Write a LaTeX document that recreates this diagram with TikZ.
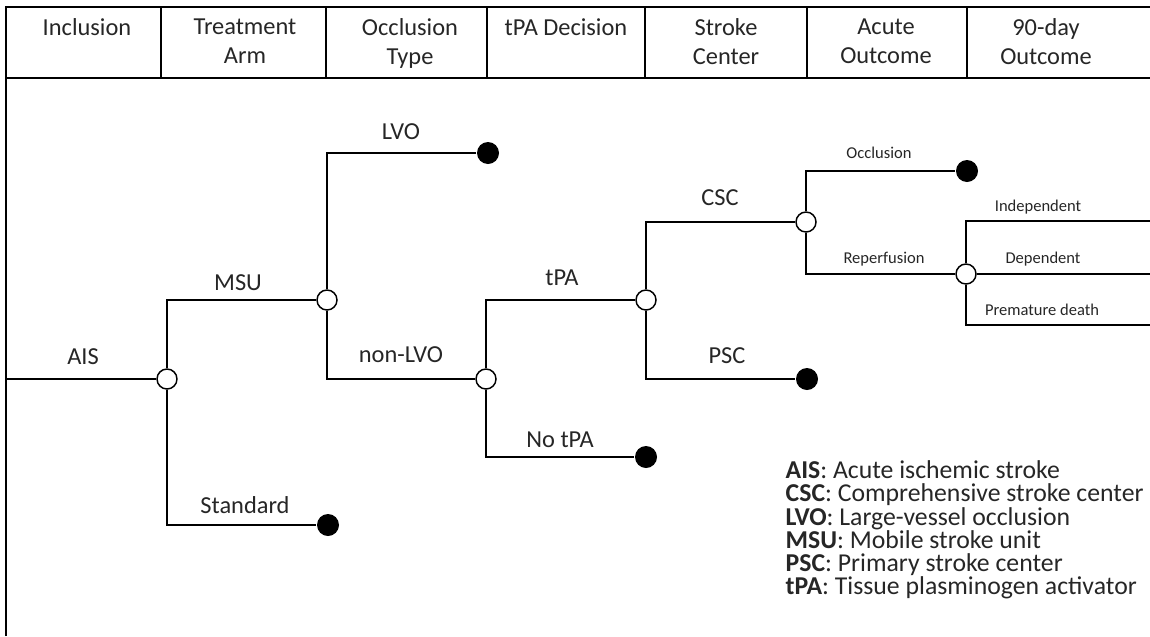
\documentclass[tikz,border=0pt]{standalone}
\usepackage{fontspec}
\setmainfont{Carlito}
\begin{document}
\begin{tikzpicture}[x=0.75pt,y=-0.75pt,line width=1.1pt,
    every node/.style={text=black!85},
    chance/.style={circle,draw,fill=white,minimum size=15pt,inner sep=0pt},
    final/.style={circle,fill=black,minimum size=16.5pt,inner sep=0pt},
    head/.style={font=\fontsize{18.3}{21.5}\selectfont,align=center,anchor=north,inner sep=0pt},
    big/.style={font=\fontsize{18.3}{22}\selectfont,anchor=base,inner sep=0pt},
    small/.style={font=\fontsize{12.4}{15}\selectfont,anchor=base,inner sep=0pt}]

        \useasboundingbox (0,0) rectangle (1150,636);

        % header:
        \draw (6,636) -- (6,7) -- (1150,7);
        \draw (6,78) -- (1150,78);
        \foreach \x in {161,326,487,645,807,967} \draw (\x,7) -- (\x,78);
        \node(hInc)[head] at (87,18) {Inclusion};
        \node(hArm)[head] at (245,18) {Treatment\\Arm};
        \node(hOcc)[head] at (410,18) {Occlusion\\Type};
        \node(hTpa)[head] at (566,18) {tPA Decision};
        \node(hCen)[head] at (726,18) {Stroke\\Center};
        \node(hAcu)[head] at (886,18) {Acute\\Outcome};
        \node(hDay)[head] at (1046,18) {90-day\\Outcome};

        % AIS:
        \coordinate(root) at (6,379);
        \node(cAIS)[chance] at (167,379) {};
        \draw (root) -- (cAIS);
        \node(lAIS)[big] at (83,364) {AIS};

        % MSU / Standard:
        \node(cMSU)[chance] at (327,300) {};
        \node(tStd)[final] at (328,525) {};
        \draw (cAIS) |- (cMSU);
        \draw (cAIS) |- (tStd);
        \node(lMSU)[big] at (238,290) {MSU};
        \node(lStd)[big] at (245,513) {Standard};

        % LVO / non-LVO:
        \node(tLVO)[final] at (488,153) {};
        \node(cNon)[chance] at (486,379) {};
        \draw (cMSU) |- (tLVO);
        \draw (cMSU) |- (cNon);
        \node(lLVO)[big] at (401,139) {LVO};
        \node(lNon)[big] at (401,362) {non-LVO};

        % tPA / No tPA:
        \node(cTpa)[chance] at (646,300) {};
        \node(tNo)[final] at (646,457) {};
        \draw (cNon) |- (cTpa);
        \draw (cNon) |- (tNo);
        \node(lTpa)[big] at (562,285) {tPA};
        \node(lNo)[big] at (560,447) {No tPA};

        % CSC / PSC:
        \node(cCSC)[chance] at (806,222) {};
        \node(tPSC)[final] at (807,379) {};
        \draw (cTpa) |- (cCSC);
        \draw (cTpa) |- (tPSC);
        \node(lCSC)[big] at (720,205) {CSC};
        \node(lPSC)[big] at (727,363) {PSC};

        % Occlusion / Reperfusion:
        \node(tOcc)[final] at (967,171) {};
        \node(cRep)[chance] at (966,274) {};
        \draw (cCSC) |- (tOcc);
        \draw (cCSC) |- (cRep);
        \node(lOcc)[small] at (879,158) {Occlusion};
        \node(lRep)[small] at (884,263) {Reperfusion};

        % 90-day:
        \coordinate(eInd) at (1150,221);
        \coordinate(eDep) at (1150,274);
        \coordinate(ePre) at (1150,325);
        \draw (cRep) |- (eInd);
        \draw (cRep) -- (eDep);
        \draw (cRep) |- (ePre);
        \node(lInd)[small] at (1038,211) {Independent};
        \node(lDep)[small] at (1043,263) {Dependent};
        \node(lPre)[small] at (1042,315) {Premature death};

        % legend:
        \node(key)[font=\fontsize{19.3}{17.4}\selectfont,align=left,anchor=north west,inner sep=0pt] at (785,460)
            {\textbf{AIS}: Acute ischemic stroke\\
             \textbf{CSC}: Comprehensive stroke center\\
             \textbf{LVO}: Large-vessel occlusion\\
             \textbf{MSU}: Mobile stroke unit\\
             \textbf{PSC}: Primary stroke center\\
             \textbf{tPA}: Tissue plasminogen activator};

    \end{tikzpicture}
\end{document}
